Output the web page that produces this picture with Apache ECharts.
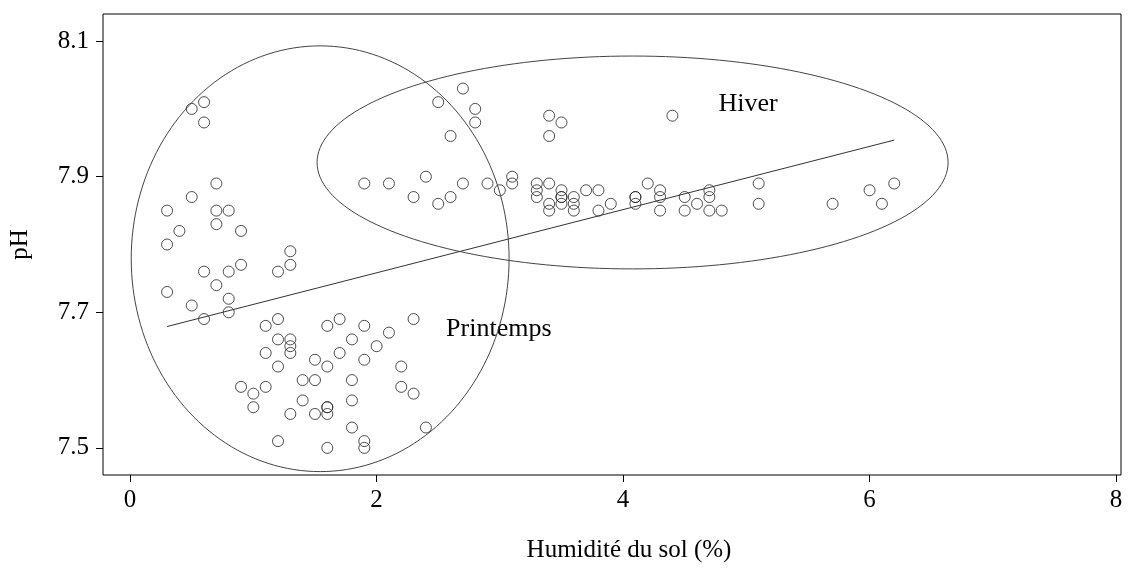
<!DOCTYPE html>
<html>
<head>
<meta charset="utf-8">
<script src="https://cdn.jsdelivr.net/npm/echarts@6/dist/echarts.min.js"></script>
<style>
html,body{margin:0;padding:0;background:#fff;}
#chart{width:1134px;height:568px;}
</style>
</head>
<body>
<div id="chart"></div>
<script>
// Printemps (spring) observations
const springX = [0.3,0.3,0.4,0.3,0.5,0.6,0.6,0.5,0.7,0.7,0.7,0.8,0.9,0.6,0.7,0.9,0.8,0.8,0.8,0.5,0.6,
  1.2,1.3,1.3,1.1,1.2,1.2,1.3,1.3,1.3,1.1,1.2,0.9,1.0,1.1,1.0,1.2,1.4,1.5,1.4,1.3,1.5,1.6,1.6,1.6,1.6,
  1.5,1.6,1.7,1.7,1.6,1.8,1.8,1.8,1.8,1.9,1.9,1.9,1.9,2.0,2.1,2.2,2.2,2.3,2.3,2.4];
const springY = [7.85,7.80,7.82,7.73,8.00,8.01,7.98,7.87,7.89,7.85,7.83,7.85,7.82,7.76,7.74,7.77,7.76,7.72,7.70,7.71,7.69,
  7.76,7.79,7.77,7.68,7.69,7.66,7.66,7.65,7.64,7.64,7.62,7.59,7.58,7.59,7.56,7.51,7.60,7.60,7.57,7.55,7.55,7.56,7.56,7.55,7.50,
  7.63,7.68,7.69,7.64,7.62,7.66,7.60,7.57,7.53,7.68,7.63,7.51,7.50,7.65,7.67,7.62,7.59,7.69,7.58,7.53];
// Hiver (winter) observations
const winterX = [2.7,2.5,2.8,2.8,2.6,3.4,3.5,3.4,4.4,1.9,2.1,2.4,2.3,2.5,2.6,2.7,2.9,3.0,3.1,3.1,3.3,3.3,3.3,
  3.4,3.4,3.4,3.5,3.5,3.5,3.5,3.6,3.6,3.6,3.7,3.8,3.8,3.9,4.1,4.1,4.1,4.2,4.3,4.3,4.3,4.5,4.5,4.6,4.7,4.7,4.7,
  4.8,5.1,5.1,5.7,6.0,6.1,6.2];
const winterY = [8.03,8.01,8.00,7.98,7.96,7.99,7.98,7.96,7.99,7.89,7.89,7.90,7.87,7.86,7.87,7.89,7.89,7.88,7.90,7.89,7.89,7.88,7.87,
  7.89,7.86,7.85,7.88,7.87,7.87,7.86,7.87,7.86,7.85,7.88,7.88,7.85,7.86,7.87,7.87,7.86,7.89,7.88,7.87,7.85,7.87,7.85,7.86,7.88,7.87,7.85,
  7.85,7.89,7.86,7.86,7.88,7.86,7.89];
// Regression line end points
const regX = [0.3, 6.2];
const regY = [7.679, 7.954];
// Ellipses: [centerX, centerY, radiusX, radiusY]
const springEllipse = [1.542, 7.779, 1.533, 0.314];
const winterEllipse = [4.077, 7.921, 2.56, 0.157];
// Annotation labels
const labelNames = ['Hiver', 'Printemps'];
const labelX = [4.77, 2.56];
const labelY = [8.007, 7.675];
// Tick labels
const xTicks = [0, 2, 4, 6, 8];
const yTicks = [7.5, 7.7, 7.9, 8.1];

const FONT = 'Liberation Serif';

function ellipsePts(e) {
  const pts = [];
  const n = 180;
  for (let i = 0; i <= n; i++) {
    const t = 2 * Math.PI * i / n;
    pts.push([e[0] + e[2] * Math.cos(t), e[1] + e[3] * Math.sin(t)]);
  }
  return pts;
}
const zip = (a, b) => a.map((v, i) => [v, b[i]]);

const chart = echarts.init(document.getElementById('chart'), null, {renderer: 'canvas'});
const pointStyle = {color: 'transparent', borderColor: '#222', borderWidth: 1};
chart.setOption({
  animation: false,
  backgroundColor: '#fff',
  grid: {left: 103, right: 13, top: 14, bottom: 84, show: true, borderColor: '#000', borderWidth: 1, backgroundColor: 'transparent'},
  xAxis: {
    type: 'value', min: -0.22, max: 8.04,
    name: 'Humidité du sol (%)', nameLocation: 'middle', nameGap: 63,
    nameTextStyle: {fontFamily: FONT, fontSize: 25, color: '#000', padding: [0, 0, 0, 34]},
    axisLine: {show: false, onZero: false},
    splitLine: {show: false},
    axisTick: {show: true, length: 7, inside: false, lineStyle: {color: '#000'}, customValues: xTicks},
    axisLabel: {fontFamily: FONT, fontSize: 25, color: '#000', margin: 13, customValues: xTicks}
  },
  yAxis: {
    type: 'value', min: 7.46, max: 8.14,
    name: 'pH', nameLocation: 'middle', nameGap: 70, nameRotate: 90,
    nameTextStyle: {fontFamily: FONT, fontSize: 25, color: '#000'},
    axisLine: {show: false, onZero: false},
    splitLine: {show: false},
    axisTick: {show: true, length: 7, inside: false, lineStyle: {color: '#000'}, customValues: yTicks},
    axisLabel: {fontFamily: FONT, fontSize: 25, color: '#000', margin: 14, customValues: yTicks,
      formatter: v => v.toFixed(1)}
  },
  series: [
    {type: 'line', data: ellipsePts(springEllipse), showSymbol: false, symbol: 'none', smooth: false,
      lineStyle: {color: '#444', width: 1}, silent: true},
    {type: 'line', data: ellipsePts(winterEllipse), showSymbol: false, symbol: 'none', smooth: false,
      lineStyle: {color: '#444', width: 1}, silent: true},
    {type: 'line', data: zip(regX, regY), showSymbol: false, symbol: 'none',
      lineStyle: {color: '#333', width: 1}, silent: true},
    {type: 'scatter', name: 'Printemps', data: zip(springX, springY), symbol: 'circle', symbolSize: 11, itemStyle: pointStyle},
    {type: 'scatter', name: 'Hiver', data: zip(winterX, winterY), symbol: 'circle', symbolSize: 11, itemStyle: pointStyle},
    {type: 'scatter', data: labelNames.map((n, i) => [labelX[i], labelY[i], n]), symbolSize: 1,
      itemStyle: {color: 'transparent', borderWidth: 0},
      label: {show: true, position: 'right', distance: 0, formatter: p => p.value[2],
        fontFamily: FONT, fontSize: 26, color: '#000', opacity: 1, textBorderWidth: 0}, silent: true}
  ]
});
</script>
</body>
</html>
